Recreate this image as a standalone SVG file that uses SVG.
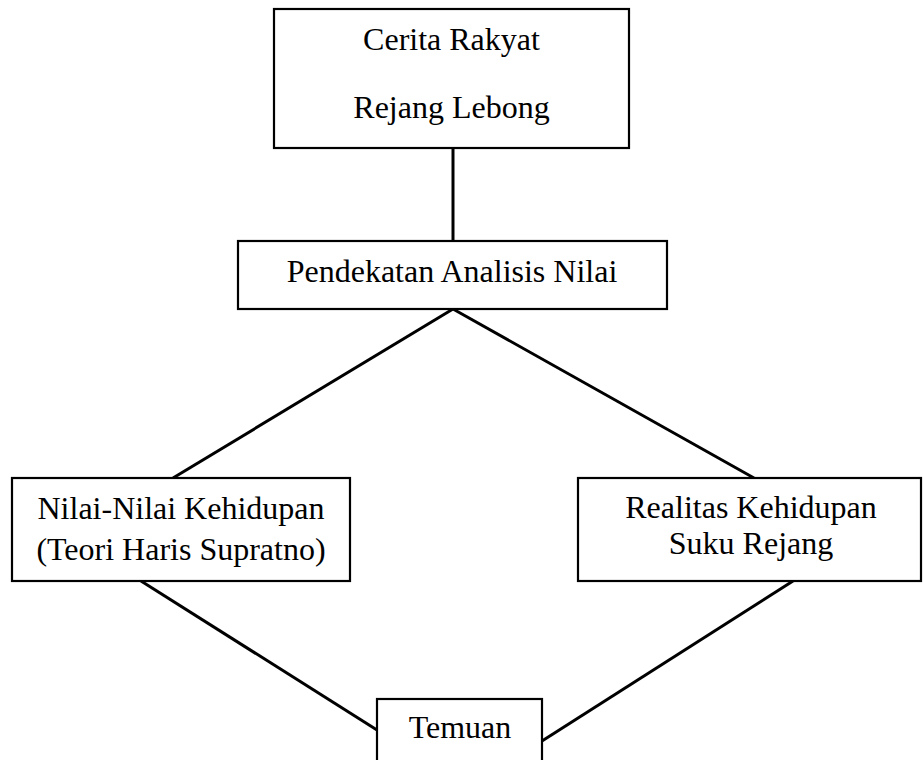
<svg xmlns="http://www.w3.org/2000/svg" width="923" height="760" viewBox="0 0 923 760">
<style>
.box{fill:#fff;stroke:#000;stroke-width:2.2}
.t{font-family:"Liberation Serif","Times New Roman",serif;font-size:32px;fill:#000;text-anchor:middle}
.c{stroke:#000;stroke-width:3;fill:none}
</style>
<rect width="923" height="760" fill="#fff"/>
<g id="connectors">
<line class="c" x1="453" y1="148" x2="453" y2="241"/>
<line class="c" x1="453" y1="309" x2="173" y2="478"/>
<line class="c" x1="453" y1="309" x2="754" y2="478"/>
<line class="c" x1="141" y1="581" x2="377" y2="730"/>
<line class="c" x1="793" y1="581" x2="542" y2="741"/>
</g>
<g id="cerita">
<rect class="box" x="274" y="9" width="355" height="139"/>
<text class="t" x="451.5" y="50">Cerita Rakyat</text>
<text class="t" x="451.5" y="118">Rejang Lebong</text>
</g>
<g id="pendekatan">
<rect class="box" x="238" y="241" width="429" height="68"/>
<text class="t" x="452" y="282">Pendekatan Analisis Nilai</text>
</g>
<g id="nilai">
<rect class="box" x="12" y="478" width="338" height="103"/>
<text class="t" x="181" y="519">Nilai-Nilai Kehidupan</text>
<text class="t" x="181" y="560">(Teori Haris Supratno)</text>
</g>
<g id="realitas">
<rect class="box" x="578" y="478" width="343" height="103"/>
<text class="t" x="751" y="518">Realitas Kehidupan</text>
<text class="t" x="751" y="554">Suku Rejang</text>
</g>
<g id="temuan">
<rect class="box" x="377" y="699" width="165" height="70"/>
<text class="t" x="460" y="738">Temuan</text>
</g>
</svg>
